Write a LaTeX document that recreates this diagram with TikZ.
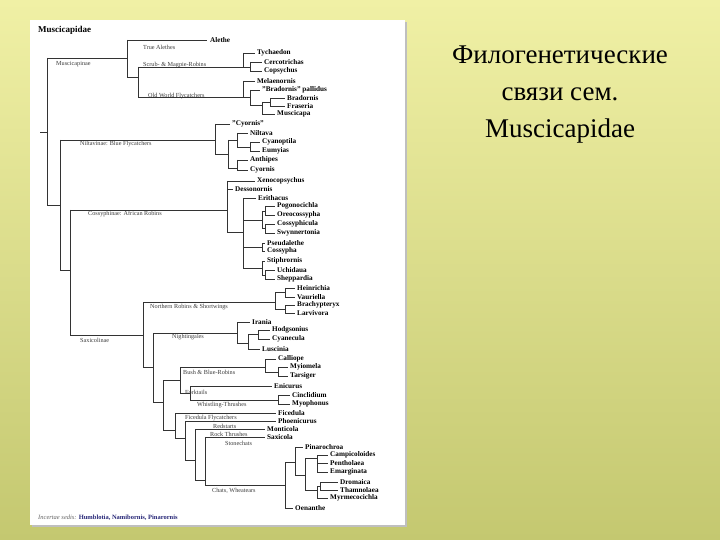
\documentclass[tikz,border=0pt]{standalone}
\usepackage{fontspec}
\setmainfont{Liberation Serif}
\definecolor{bgA}{RGB}{240,240,165}
\definecolor{bgB}{RGB}{196,200,112}
\definecolor{lbl}{RGB}{60,60,60}
\definecolor{ftblue}{RGB}{40,40,120}
\begin{document}
\begin{tikzpicture}[x=1pt,y=-1pt,
  br/.style={draw=black!80,line width=0.6pt},
  leaf/.style={anchor=west,inner sep=0pt,font=\fontsize{7.2}{8}\selectfont\bfseries},
  clade/.style={anchor=west,inner sep=0pt,font=\fontsize{6.2}{7}\selectfont,text=lbl},
  title/.style={font=\fontsize{27}{37}\selectfont,align=center}]
\shade[top color=bgA,bottom color=bgB] (0,0) rectangle (720,540);
\useasboundingbox (0,0) rectangle (720,540);
\fill[black!25] (32,22) rectangle (407,527);
\fill[white] (30,20) rectangle (405,525);
\node[title] (t) at (560,95) {Филогенетические\\связи сем.\\Muscicapidae};
\node[anchor=west,inner sep=0pt,font=\fontsize{9}{10}\selectfont\bfseries] (hd) at (38,30) {Muscicapidae};
% ---- lines
\draw[br] (40,132)--(47,132) (47,58)--(47,205) (47,58)--(127,58)
 (127,40)--(127,77) (127,40)--(207,40) (127,77)--(138,77) (138,67)--(138,97)
 (138,67)--(243,67) (243,53)--(243,67) (243,53)--(255,53) (243,67)--(250,67)
 (250,62)--(250,71) (250,62)--(262,62) (250,71)--(262,71)
 (138,97)--(243,97) (243,81)--(243,97) (243,81)--(255,81) (243,97)--(250,97)
 (250,90)--(250,105) (250,90)--(260,90) (250,105)--(262,105) (262,102)--(262,114)
 (262,114)--(275,114) (262,102)--(270,102) (270,98)--(270,106) (270,98)--(285,98) (270,106)--(285,106);
% Niltavinae
\draw[br] (47,205)--(60,205) (60,140)--(60,270) (60,140)--(215,140)
 (215,124)--(215,154) (215,124)--(230,124) (215,154)--(228,154) (228,140)--(228,168)
 (228,140)--(237,140) (237,133)--(237,147) (237,133)--(248,133) (237,147)--(250,147)
 (250,142)--(250,151) (250,142)--(260,142) (250,151)--(260,151)
 (228,168)--(237,168) (237,160)--(237,170) (237,160)--(248,160) (237,170)--(248,170);
% Cossyphinae
\draw[br] (60,270)--(70,270) (70,210)--(70,335) (70,210)--(227,210)
 (227,181)--(227,232) (227,181)--(255,181) (227,189)--(233,189) (227,232)--(243,232)
 (243,198)--(243,268) (243,198)--(256,198) (243,220)--(262,220) (262,211)--(262,228)
 (262,211)--(265,211) (265,206)--(265,215) (265,206)--(275,206) (265,215)--(275,215)
 (262,228)--(265,228) (265,224)--(265,233) (265,224)--(275,224) (265,233)--(275,233)
 (243,247)--(262,247) (262,243)--(262,251) (262,243)--(265,243) (262,251)--(265,251)
 (243,268)--(262,268) (262,261)--(262,275) (262,261)--(265,261) (262,275)--(265,275)
 (265,270)--(265,279) (265,270)--(275,270) (265,279)--(275,279);
% Saxicolinae
\draw[br] (70,335)--(143,335) (143,302)--(143,367) (143,302)--(275,302)
 (275,292)--(275,309) (275,292)--(285,292) (285,288)--(285,297) (285,288)--(295,288) (285,297)--(295,297)
 (275,309)--(285,309) (285,305)--(285,313) (285,305)--(295,305) (285,313)--(295,313)
 (143,367)--(153,367) (153,333)--(153,402) (153,333)--(237,333)
 (237,322)--(237,343) (237,322)--(250,322) (237,343)--(248,343) (248,334)--(248,349)
 (248,334)--(258,334) (258,330)--(258,339) (258,330)--(270,330) (258,339)--(270,339) (248,349)--(260,349)
 (153,402)--(163,402) (163,380)--(163,430) (163,380)--(180,380) (180,367)--(180,393)
 (180,367)--(265,367) (265,359)--(265,372) (265,359)--(276,359) (265,372)--(278,372)
 (278,367)--(278,376) (278,367)--(288,367) (278,376)--(288,376)
 (180,393)--(190,393) (190,386)--(190,400) (190,386)--(272,386) (190,400)--(278,400)
 (278,395)--(278,404) (278,395)--(290,395) (278,404)--(290,404)
 (163,430)--(175,430) (175,413)--(175,438) (175,413)--(276,413) (175,438)--(185,438)
 (185,421)--(185,460) (185,421)--(276,421) (185,460)--(195,460) (195,429)--(195,480)
 (195,429)--(265,429) (195,480)--(205,480) (205,437)--(205,485) (205,437)--(265,437)
 (205,485)--(285,485) (285,462)--(285,508) (285,508)--(293,508) (285,462)--(295,462)
 (295,447)--(295,475) (295,447)--(303,447) (295,475)--(305,475) (305,458)--(305,490)
 (305,458)--(317,458) (317,455)--(317,472) (317,455)--(328,455) (317,463)--(328,463) (317,472)--(328,472)
 (305,490)--(317,490) (317,486)--(317,498) (317,486)--(320,486) (320,482)--(320,490)
 (320,482)--(338,482) (320,490)--(338,490) (317,498)--(328,498);
% ---- clade labels
\node[clade] (c1) at (143,47) {True Alethes};
\node[clade] (c2) at (56,64) {Muscicapinae};
\node[clade] (c3) at (143,65) {Scrub- \& Magpie-Robins};
\node[clade] (c4) at (148,96) {Old World Flycatchers};
\node[clade] (c5) at (80,144) {Niltavinae: Blue Flycatchers};
\node[clade] (c6) at (88,214) {Cossyphinae: African Robins};
\node[clade] (c7) at (150,307) {Northern Robins \& Shortwings};
\node[clade] (c8) at (80,340) {Saxicolinae};
\node[clade] (c9) at (172,337) {Nightingales};
\node[clade] (c10) at (183,372) {Bush \& Blue-Robins};
\node[clade] (c11) at (185,392) {Forktails};
\node[clade] (c12) at (197,405) {Whistling-Thrushes};
\node[clade] (c13) at (185,418) {Ficedula Flycatchers};
\node[clade] (c14) at (213,426) {Redstarts};
\node[clade] (c15) at (210,434) {Rock Thrushes};
\node[clade] (c16) at (225,443) {Stonechats};
\node[clade] (c17) at (212,491) {Chats, Wheatears};
% ---- leaves
\node[leaf] (l1) at (210,40) {Alethe};
\node[leaf] (l2) at (257,53) {Tychaedon};
\node[leaf] (l3) at (264,62) {Cercotrichas};
\node[leaf] (l4) at (264,71) {Copsychus};
\node[leaf] (l5) at (257,81) {Melaenornis};
\node[leaf] (l6) at (262,90) {"Bradornis" pallidus};
\node[leaf] (l7) at (287,98) {Bradornis};
\node[leaf] (l8) at (287,106) {Fraseria};
\node[leaf] (l9) at (277,114) {Muscicapa};
\node[leaf] (l10) at (232,124) {"Cyornis"};
\node[leaf] (l11) at (250,133) {Niltava};
\node[leaf] (l12) at (262,142) {Cyanoptila};
\node[leaf] (l13) at (262,151) {Eumyias};
\node[leaf] (l14) at (250,160) {Anthipes};
\node[leaf] (l15) at (250,170) {Cyornis};
\node[leaf] (l16) at (257,181) {Xenocopsychus};
\node[leaf] (l17) at (235,189) {Dessonornis};
\node[leaf] (l18) at (258,198) {Erithacus};
\node[leaf] (l19) at (277,206) {Pogonocichla};
\node[leaf] (l20) at (277,215) {Oreocossypha};
\node[leaf] (l21) at (277,224) {Cossyphicula};
\node[leaf] (l22) at (277,233) {Swynnertonia};
\node[leaf] (l23) at (267,243) {Pseudalethe};
\node[leaf] (l24) at (267,251) {Cossypha};
\node[leaf] (l25) at (267,261) {Stiphrornis};
\node[leaf] (l26) at (277,270) {Uchidaua};
\node[leaf] (l27) at (277,279) {Sheppardia};
\node[leaf] (l28) at (297,288) {Heinrichia};
\node[leaf] (l29) at (297,297) {Vauriella};
\node[leaf] (l30) at (297,305) {Brachypteryx};
\node[leaf] (l31) at (297,313) {Larvivora};
\node[leaf] (l32) at (252,322) {Irania};
\node[leaf] (l33) at (272,330) {Hodgsonius};
\node[leaf] (l34) at (272,339) {Cyanecula};
\node[leaf] (l35) at (262,349) {Luscinia};
\node[leaf] (l36) at (278,359) {Calliope};
\node[leaf] (l37) at (290,367) {Myiomela};
\node[leaf] (l38) at (290,376) {Tarsiger};
\node[leaf] (l39) at (274,386) {Enicurus};
\node[leaf] (l40) at (292,395) {Cinclidium};
\node[leaf] (l41) at (292,404) {Myophonus};
\node[leaf] (l42) at (278,413) {Ficedula};
\node[leaf] (l43) at (278,421) {Phoenicurus};
\node[leaf] (l44) at (267,429) {Monticola};
\node[leaf] (l45) at (267,437) {Saxicola};
\node[leaf] (l46) at (305,447) {Pinarochroa};
\node[leaf] (l47) at (330,455) {Campicoloides};
\node[leaf] (l48) at (330,463) {Pentholaea};
\node[leaf] (l49) at (330,472) {Emarginata};
\node[leaf] (l50) at (340,482) {Dromaica};
\node[leaf] (l51) at (340,490) {Thamnolaea};
\node[leaf] (l52) at (330,498) {Myrmecocichla};
\node[leaf] (l53) at (295,508) {Oenanthe};
\node[anchor=west,inner sep=0pt,font=\fontsize{6.5}{8}\selectfont] (ft) at (38,518)
 {\textcolor{black!60}{\itshape Incertae sedis:} \textcolor{ftblue}{\bfseries Humblotia, Namibornis, Pinarornis}};
\end{tikzpicture}
\end{document}
